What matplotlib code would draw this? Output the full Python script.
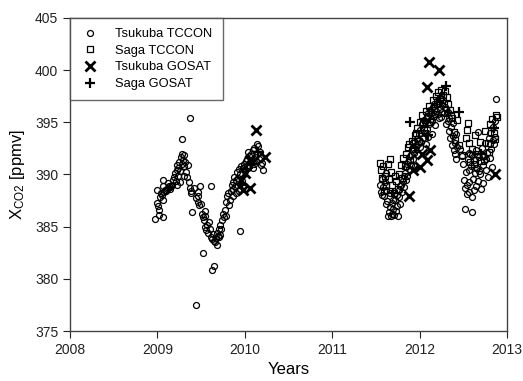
import matplotlib
matplotlib.use("Agg")
import matplotlib.pyplot as plt
import numpy as np

plt.rcParams['font.family'] = ['Liberation Sans', 'DejaVu Sans']
plt.rcParams['mathtext.default'] = 'regular'

# Tsukuba TCCON, 2009-2010 part
tsu_09_year = [2008.976, 2008.99, 2009.015, 2009.068, 2009.00, 2009.01, 2009.03, 2009.04, 2009.02, 2009.05,
               2009.068, 2009.06, 2009.08, 2009.09, 2009.10, 2009.11, 2009.12, 2009.13, 2009.14, 2009.15,
               2009.16, 2009.17, 2009.18, 2009.19, 2009.20, 2009.21, 2009.22, 2009.23, 2009.24, 2009.24,
               2009.25, 2009.26, 2009.27, 2009.28, 2009.285, 2009.29, 2009.30, 2009.31, 2009.32, 2009.33,
               2009.34, 2009.278, 2009.373, 2009.35, 2009.36, 2009.37, 2009.38, 2009.39, 2009.40, 2009.42,
               2009.445, 2009.46, 2009.47, 2009.48, 2009.49, 2009.50, 2009.51, 2009.518, 2009.52, 2009.53,
               2009.54, 2009.55, 2009.56, 2009.57, 2009.58, 2009.59, 2009.61, 2009.60, 2009.61, 2009.62,
               2009.63, 2009.645, 2009.64, 2009.65, 2009.66, 2009.67, 2009.68, 2009.69, 2009.70, 2009.71,
               2009.72, 2009.73, 2009.74, 2009.75, 2009.76, 2009.77, 2009.78, 2009.79, 2009.80, 2009.81,
               2009.82, 2009.83, 2009.84, 2009.85, 2009.86, 2009.87, 2009.88, 2009.89, 2009.90, 2009.91,
               2009.92, 2009.93, 2009.94, 2009.95, 2009.96, 2009.97, 2009.98, 2009.99, 2010.00, 2010.01,
               2010.02, 2010.03, 2010.04, 2010.05, 2010.06, 2010.07, 2010.08, 2010.09, 2010.10, 2010.11,
               2010.12, 2010.136, 2010.14, 2010.15, 2010.16, 2010.17, 2010.18, 2010.19, 2010.20, 2010.21,
               2010.13, 2009.95, 2009.93, 2009.22, 2009.26, 2009.30, 2009.12, 2009.07, 2009.44, 2009.47,
               2009.55, 2009.68, 2009.72, 2009.86, 2009.90, 2010.04, 2010.09]
tsu_09_co2 = [385.7, 388.5, 386.1, 385.9, 387.3, 387.0, 387.8, 388.2, 386.6, 388.0,
              389.5, 387.6, 388.3, 388.5, 388.4, 388.6, 388.7, 388.9, 388.6, 388.8,
              388.9, 389.0, 389.5, 389.8, 390.1, 389.4, 390.4, 390.9, 390.6, 389.9,
              391.2, 390.3, 391.7, 392.0, 391.0, 391.4, 390.8, 391.9, 391.2, 390.2,
              389.8, 393.4, 395.4, 390.9, 389.3, 388.7, 388.4, 388.2, 386.4, 388.7,
              377.5, 387.9, 387.4, 387.1, 388.9, 387.2, 386.2, 382.5, 385.9, 385.6,
              386.0, 385.0, 384.7, 385.2, 384.4, 385.4, 388.9, 384.8, 384.0, 383.8,
              380.8, 381.2, 384.3, 383.6, 383.5, 383.9, 384.4, 384.1, 384.0, 384.8,
              385.2, 384.8, 385.6, 386.2, 385.9, 386.6, 387.4, 386.0, 387.9, 388.2,
              387.1, 387.6, 388.4, 389.0, 388.6, 389.3, 389.8, 388.9, 389.5, 390.2,
              389.7, 390.5, 384.6, 390.0, 390.8, 389.4, 390.6, 391.0, 390.3, 391.3,
              390.8, 391.5, 390.6, 391.8, 391.2, 392.0, 391.4, 392.3, 391.0, 392.5,
              391.7, 392.9, 392.0, 392.7, 391.5, 392.2, 390.9, 391.6, 391.1, 390.4,
              391.3, 388.6, 388.4, 389.0, 389.3, 389.9, 389.2, 388.9, 387.7, 388.3,
              386.5, 383.2, 384.2, 387.9, 388.2, 392.2, 390.6]

# Tsukuba TCCON, 2011-2012 part
tsu_11_year = [2011.55, 2011.56, 2011.57, 2011.58, 2011.59, 2011.60, 2011.61, 2011.62, 2011.63, 2011.64,
               2011.65, 2011.66, 2011.67, 2011.68, 2011.69, 2011.70, 2011.71, 2011.72, 2011.73, 2011.74,
               2011.75, 2011.76, 2011.77, 2011.78, 2011.79, 2011.80, 2011.81, 2011.82, 2011.83, 2011.84,
               2011.85, 2011.86, 2011.87, 2011.88, 2011.89, 2011.90, 2011.91, 2011.92, 2011.93, 2011.94,
               2011.95, 2011.96, 2011.97, 2011.98, 2011.99, 2012.00, 2012.01, 2012.02, 2012.03, 2012.04,
               2012.05, 2012.06, 2012.07, 2012.08, 2012.09, 2012.10, 2012.11, 2012.12, 2012.13, 2012.14,
               2012.15, 2012.16, 2012.17, 2012.18, 2012.19, 2012.20, 2012.21, 2012.22, 2012.23, 2012.24,
               2012.25, 2012.26, 2012.27, 2012.28, 2012.29, 2012.30, 2012.31, 2012.32, 2012.33, 2012.34,
               2012.35, 2012.36, 2012.37, 2012.38, 2012.39, 2012.40, 2012.41, 2012.42, 2012.43, 2012.50,
               2012.51, 2012.52, 2012.52, 2012.53, 2012.54, 2012.55, 2012.56, 2012.57, 2012.58, 2012.59,
               2012.60, 2012.60, 2012.61, 2012.62, 2012.63, 2012.64, 2012.65, 2012.66, 2012.67, 2012.68,
               2012.69, 2012.70, 2012.71, 2012.72, 2012.73, 2012.74, 2012.75, 2012.76, 2012.77, 2012.78,
               2012.79, 2012.80, 2012.81, 2012.82, 2012.83, 2012.84, 2012.85, 2012.86, 2012.87, 2012.865,
               2012.545, 2012.57, 2012.62, 2012.67,
               2011.57, 2011.61, 2011.66, 2011.70, 2011.74, 2011.78, 2011.82, 2011.86, 2011.90, 2011.94,
               2011.98, 2012.02, 2012.06, 2012.10, 2012.14, 2012.18, 2012.22, 2012.26, 2012.30, 2012.34,
               2012.38, 2012.42, 2012.46, 2012.48, 2012.56, 2012.60, 2012.64, 2012.68, 2012.72, 2012.76,
               2012.80, 2012.84]
tsu_11_co2 = [389.0, 388.3, 389.6, 388.8, 387.9, 389.3, 388.5, 390.1, 387.5, 386.0,
              386.4, 386.9, 386.0, 387.3, 386.2, 386.7, 386.1, 387.6, 386.5, 388.0,
              386.0, 387.8, 388.5, 387.2, 389.0, 388.3, 389.4, 388.8, 390.1, 389.5,
              390.7, 389.9, 391.2, 390.5, 391.8, 390.9, 392.4, 391.5, 393.0, 392.1,
              390.8, 392.8, 393.4, 391.9, 393.9, 392.6, 394.3, 393.1, 394.8, 393.5,
              395.2, 394.0, 392.9, 395.6, 394.4, 395.9, 394.8, 396.2, 395.3, 393.9,
              396.5, 395.6, 396.8, 394.7, 396.1, 397.0, 395.8, 396.9, 396.3, 397.3,
              395.5, 396.7, 397.1, 395.9, 396.5, 394.8, 395.9, 395.1, 396.0, 394.2,
              393.5, 394.6, 392.8, 393.7, 392.3, 393.0, 392.0, 391.5, 392.6, 391.0,
              389.5, 388.7, 386.7, 390.2, 389.0, 391.5, 390.4, 389.3, 392.0, 390.8,
              386.4, 387.8, 389.6, 391.4, 390.1, 388.9, 392.3, 390.6, 389.4, 391.7,
              390.0, 388.6, 392.5, 390.9, 389.2, 391.3, 393.0, 390.4, 392.1, 389.8,
              393.5, 391.6, 394.0, 392.4, 390.7, 394.6, 392.9, 395.1, 397.2, 393.6,
              388.1, 388.3, 388.5, 394.1,
              388.0, 387.2, 388.2, 387.6, 387.0, 388.9, 389.9, 391.0, 391.9, 393.2,
              392.9, 394.0, 395.0, 393.6, 395.1, 395.8, 395.4, 396.0, 396.3, 395.4,
              394.9, 393.9, 392.4, 391.8, 392.1, 391.9, 390.6, 390.3, 391.9, 391.5,
              392.9, 393.3]

# Saga TCCON
saga_year = [2011.55, 2011.56, 2011.57, 2011.58, 2011.60, 2011.62, 2011.64, 2011.66, 2011.67, 2011.69,
             2011.71, 2011.73, 2011.75, 2011.77, 2011.79, 2011.81, 2011.83, 2011.85, 2011.87, 2011.89,
             2011.91, 2011.93, 2011.95, 2011.97, 2011.99, 2012.01, 2012.03, 2012.05, 2012.07, 2012.09,
             2012.11, 2012.13, 2012.15, 2012.17, 2012.19, 2012.21, 2012.23, 2012.25, 2012.27, 2012.29,
             2012.31, 2012.33, 2012.35, 2012.37, 2012.39, 2012.41, 2012.43, 2012.45, 2012.49, 2012.53,
             2012.56, 2012.58, 2012.60, 2012.63, 2012.66, 2012.69, 2012.72, 2012.75, 2012.78, 2012.81,
             2012.83, 2012.85, 2012.87, 2012.88, 2012.86, 2012.55, 2012.54,
             2011.59, 2011.65, 2011.72, 2011.80, 2011.88, 2011.96, 2012.04, 2012.12, 2012.20, 2012.28,
             2012.36, 2012.62, 2012.70, 2012.79]
saga_co2 = [391.1, 390.4, 389.7, 390.8, 389.9, 388.9, 391.0, 391.5, 390.2, 389.0,
            388.2, 389.4, 388.6, 390.0, 390.9, 391.6, 390.8, 392.0, 392.6, 391.4,
            393.2, 392.4, 393.8, 394.5, 393.2, 395.0, 395.7, 394.3, 396.1, 395.4,
            396.6, 396.0, 397.1, 396.4, 397.5, 397.9, 397.2, 398.1, 397.6, 398.0,
            397.4, 396.8, 396.2, 395.4, 394.1, 393.3, 395.2, 392.8, 391.9, 393.5,
            393.0, 391.2, 392.4, 393.8, 392.0, 393.1, 391.8, 394.2, 393.0, 394.8,
            395.3, 394.0, 395.7, 395.5, 393.4, 394.9, 394.3,
            388.4, 389.6, 389.9, 389.7, 392.9, 394.0, 394.9, 395.0, 396.8, 396.9,
            395.7, 391.0, 391.3, 392.2]

# Tsukuba GOSAT
tsu_gosat_year = [2010.125, 2010.06, 2010.23, 2010.06, 2009.98, 2009.96, 2010.00,
                  2012.111, 2012.222, 2012.081, 2011.88, 2012.863, 2011.92, 2012.03,
                  2012.00, 2012.08, 2012.12]
tsu_gosat_co2 = [394.3, 391.4, 391.7, 388.7, 388.5, 389.5, 390.1,
                 400.8, 400.0, 398.4, 387.9, 390.0, 390.4, 392.0,
                 390.7, 391.4, 392.3]

# Saga GOSAT
saga_gosat_year = [2010.02, 2010.08, 2010.15, 2009.97,
                   2012.30, 2011.89, 2011.95, 2012.10, 2011.70, 2012.45, 2012.85, 2012.70]
saga_gosat_co2 = [390.5, 391.0, 392.2, 389.0,
                  398.5, 395.0, 392.5, 393.8, 388.2, 396.0, 394.5, 392.0]

fig = plt.figure(figsize=(5.23, 3.81), dpi=100)
ax = fig.add_axes([0.1338, 0.1312, 0.8356, 0.8216])

ax.plot(tsu_09_year + tsu_11_year, tsu_09_co2 + tsu_11_co2, 'o', ls='none', ms=4.3,
        mfc='none', mec='black', mew=0.9, label='Tsukuba TCCON')
ax.plot(saga_year, saga_co2, 's', ls='none', ms=4.3, mfc='none', mec='black', mew=0.9,
        label='Saga TCCON')
ax.plot(tsu_gosat_year, tsu_gosat_co2, 'x', ls='none', ms=7, mec='black', mew=2,
        label='Tsukuba GOSAT')
ax.plot(saga_gosat_year, saga_gosat_co2, '+', ls='none', ms=7, mec='black', mew=1.6,
        label='Saga GOSAT')

ax.set_xlim(2008, 2013)
ax.set_ylim(375, 405)
ax.set_xticks(np.arange(2008, 2014, 1))
ax.set_yticks(np.arange(375, 406, 5))
ax.tick_params(direction='out', length=5, width=0.8, labelsize=10, colors='#222222')
for s in ax.spines.values():
    s.set_color('#444444')
    s.set_linewidth(1)

ax.set_xlabel('Years', fontsize=12, labelpad=4)
ax.set_ylabel('X$_{CO2}$ [ppmv]', fontsize=12, labelpad=6)

leg = ax.legend(loc='upper left', bbox_to_anchor=(0, 1), borderaxespad=0, fancybox=False,
                edgecolor='#444444', fontsize=9.3, handletextpad=1.2, borderpad=0.8,
                labelspacing=0.35, handlelength=1.5)
leg.get_frame().set_linewidth(1)

fig.savefig('out.png', dpi=100)
